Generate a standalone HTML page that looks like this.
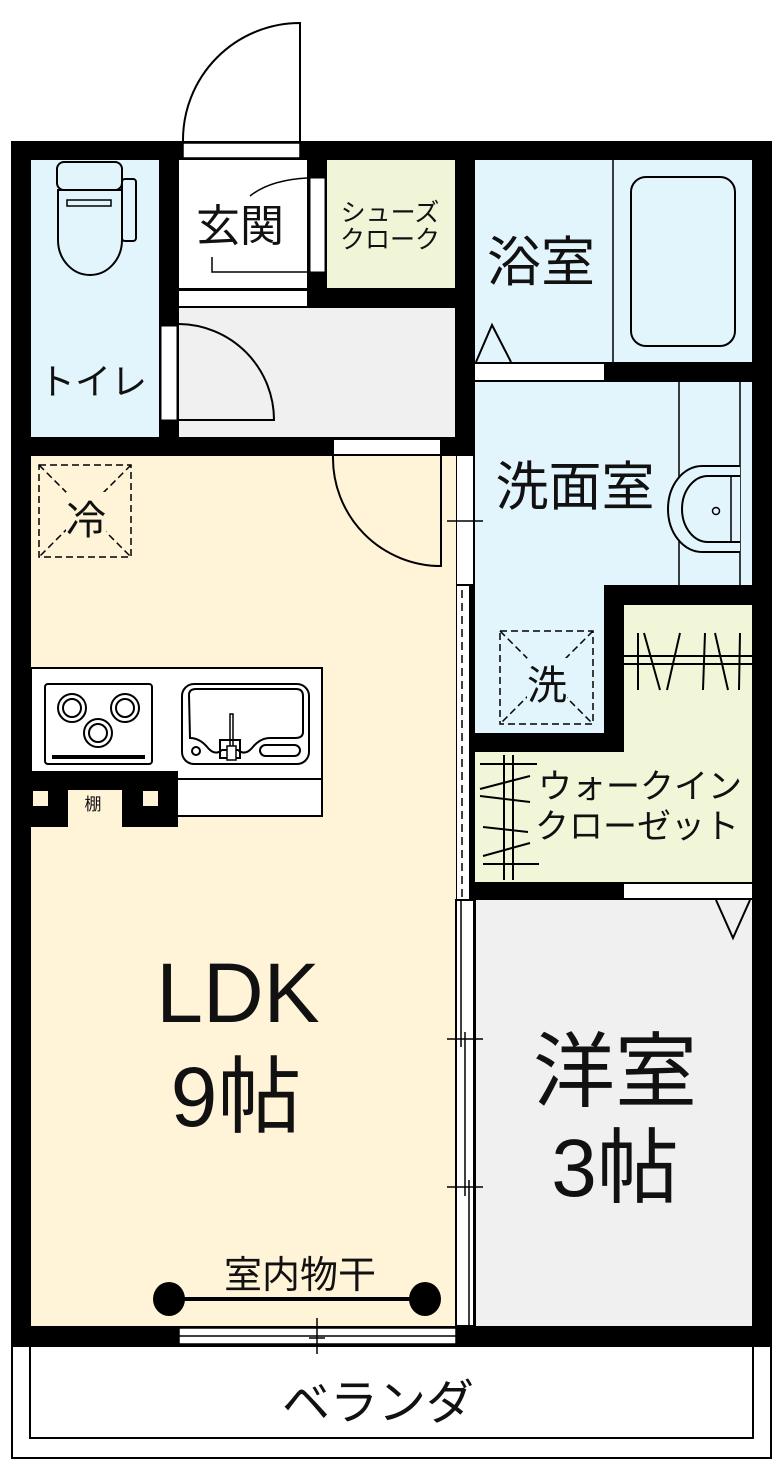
<!DOCTYPE html>
<html><head><meta charset="utf-8"><style>
html,body{margin:0;padding:0;background:#fff}
svg{display:block}
text{font-family:"Liberation Sans","Noto Sans CJK JP",sans-serif;fill:#111}
</style></head><body>
<svg width="784" height="1479" viewBox="0 0 784 1479" xmlns="http://www.w3.org/2000/svg">
<rect x="11" y="141" width="761" height="1205" fill="#000"/>
<rect x="31" y="160" width="128" height="277" fill="#e2f5fd"/>
<rect x="179" y="160" width="128" height="128" fill="#fff"/>
<rect x="179" y="291" width="128" height="15" fill="#fff"/>
<rect x="327" y="160" width="128" height="128" fill="#eff5d6"/>
<rect x="179" y="308" width="276" height="129" fill="#f0f0f0"/>
<rect x="475" y="160" width="277" height="202" fill="#e2f5fd"/>
<rect x="475" y="382" width="277" height="203" fill="#e2f5fd"/>
<rect x="475" y="585" width="129" height="148" fill="#e2f5fd"/>
<rect x="624" y="605" width="128" height="147" fill="#f1f6d9"/>
<rect x="475" y="752" width="277" height="130" fill="#f1f6d9"/>
<rect x="476" y="900" width="276" height="426" fill="#f0f0f0"/>
<rect x="31" y="456" width="425" height="870" fill="#fff3d8"/>
<rect x="183" y="143" width="117" height="15" fill="#fff" stroke="#000" stroke-width="1.5"/>
<path d="M300 141 V23 A117 117 0 0 0 183 141" fill="none" stroke="#000" stroke-width="2"/>
<rect x="310" y="178" width="15" height="94" fill="#fff" stroke="#000" stroke-width="1"/>
<path d="M307 178 Q270 180 250 196" fill="none" stroke="#000" stroke-width="1.5"/>
<path d="M212 257 V272 H307" fill="none" stroke="#000" stroke-width="1.5"/>
<line x1="179" y1="290" x2="307" y2="290" stroke="#000" stroke-width="1.5"/>
<rect x="161" y="326" width="16" height="94" fill="#fff" stroke="#000" stroke-width="1"/>
<path d="M179 324 A96 96 0 0 1 274 420 H179" fill="none" stroke="#000" stroke-width="2"/>
<rect x="334" y="440" width="106" height="14" fill="#fff"/>
<path d="M441 456 V566 A108 108 0 0 1 333 456" fill="none" stroke="#000" stroke-width="2"/>
<rect x="457" y="456" width="16" height="128" fill="#fff"/>
<rect x="457" y="586" width="12" height="314" fill="#fff"/>
<line x1="462" y1="590" x2="462" y2="898" stroke="#000" stroke-width="1.5" stroke-dasharray="8,5"/>
<line x1="447" y1="521" x2="483" y2="521" stroke="#000" stroke-width="1.5"/>
<rect x="456" y="900" width="18" height="426" fill="#fff" stroke="#000" stroke-width="2"/>
<line x1="461" y1="900" x2="461" y2="1047" stroke="#000" stroke-width="1.5"/>
<line x1="465" y1="1032" x2="465" y2="1196" stroke="#000" stroke-width="1.5"/>
<line x1="469" y1="1180" x2="469" y2="1326" stroke="#000" stroke-width="1.5"/>
<line x1="447" y1="1039" x2="483" y2="1039" stroke="#000" stroke-width="1.5"/>
<line x1="447" y1="1187" x2="483" y2="1187" stroke="#000" stroke-width="1.5"/>
<rect x="57" y="162" width="65" height="28" rx="7" fill="#e2f5fd" stroke="#000" stroke-width="2"/>
<rect x="122" y="179" width="14" height="62" rx="3" fill="#e2f5fd" stroke="#000" stroke-width="2"/>
<path d="M58 190 V240 A32 35 0 0 0 122 240 V190 Z" fill="#e2f5fd" stroke="#000" stroke-width="2"/>
<rect x="67" y="200" width="44" height="6" fill="none" stroke="#000" stroke-width="1.5"/>
<text x="93" y="394" font-size="36" text-anchor="middle">トイレ</text>
<text x="240" y="241" font-size="44" text-anchor="middle">玄関</text>
<text x="390" y="221" font-size="25" text-anchor="middle">シューズ</text>
<text x="390" y="248" font-size="25" text-anchor="middle">クローク</text>
<line x1="613" y1="160" x2="613" y2="362" stroke="#000" stroke-width="1.5"/>
<rect x="631" y="177" width="104" height="169" rx="15" fill="none" stroke="#000" stroke-width="2"/>
<path d="M476 362 L492 325 L511 362" fill="none" stroke="#000" stroke-width="2"/>
<rect x="475" y="364" width="129" height="16" fill="#fff"/>
<text x="541" y="281" font-size="54" text-anchor="middle">浴室</text>
<line x1="679" y1="382" x2="679" y2="585" stroke="#000" stroke-width="1.5"/>
<line x1="740" y1="382" x2="740" y2="585" stroke="#000" stroke-width="1.5"/>
<path d="M740 466 H702 A34 43 0 0 0 702 552 H740" fill="#e2f5fd" stroke="#000" stroke-width="2"/>
<path d="M740 476 H708 A26 33 0 0 0 708 542 H740" fill="none" stroke="#000" stroke-width="2"/>
<line x1="731" y1="476" x2="731" y2="542" stroke="#000" stroke-width="1.5"/>
<circle cx="716" cy="511" r="3.5" fill="none" stroke="#000" stroke-width="1.5"/>
<text x="575" y="505" font-size="53" text-anchor="middle">洗面室</text>
<g stroke="#000" stroke-width="1.5" stroke-dasharray="7,4" fill="none">
<rect x="500" y="631" width="93" height="93"/><line x1="500" y1="631" x2="593" y2="724"/><line x1="593" y1="631" x2="500" y2="724"/>
<rect x="39" y="465" width="92" height="92"/><line x1="39" y1="465" x2="131" y2="557"/><line x1="131" y1="465" x2="39" y2="557"/>
</g>
<rect x="527" y="658" width="40" height="42" fill="#e2f5fd"/>
<text x="547" y="699" font-size="40" text-anchor="middle">洗</text>
<rect x="66" y="492" width="40" height="42" fill="#fff3d8"/>
<text x="86" y="534" font-size="40" text-anchor="middle">冷</text>
<g stroke="#000" stroke-width="2" fill="none">
<line x1="624" y1="656" x2="752" y2="656"/><line x1="624" y1="664" x2="752" y2="664"/>
<line x1="638" y1="633" x2="638" y2="690"/><line x1="644" y1="633" x2="660" y2="690"/>
<line x1="680" y1="633" x2="667" y2="690"/><line x1="705" y1="633" x2="703" y2="690"/>
<line x1="715" y1="633" x2="728" y2="690"/><line x1="740" y1="633" x2="739" y2="690"/>
<line x1="504" y1="755" x2="504" y2="880"/><line x1="513" y1="755" x2="513" y2="880"/>
<line x1="480" y1="764" x2="537" y2="764"/><line x1="480" y1="789" x2="530" y2="776"/>
<line x1="480" y1="796" x2="530" y2="802"/><line x1="483" y1="827" x2="528" y2="832"/>
<line x1="483" y1="856" x2="530" y2="843"/><line x1="483" y1="864" x2="539" y2="864"/>
</g>
<text x="640" y="798" font-size="34" text-anchor="middle">ウォークイン</text>
<text x="637" y="838" font-size="34" text-anchor="middle">クローゼット</text>
<rect x="624" y="884" width="128" height="14" fill="#fff"/>
<path d="M716 900 L733 938 L750 900" fill="none" stroke="#000" stroke-width="2"/>
<rect x="31" y="668" width="291" height="148" fill="#fff" stroke="#000" stroke-width="2"/>
<line x1="31" y1="779" x2="322" y2="779" stroke="#000" stroke-width="2"/>
<rect x="31" y="771" width="147" height="27" fill="#000"/>
<rect x="31" y="798" width="37" height="29" fill="#000"/>
<rect x="122" y="798" width="56" height="29" fill="#000"/>
<rect x="68" y="790" width="54" height="37" fill="#fff3d8"/>
<rect x="33" y="791" width="15" height="15" fill="#fff3d8"/>
<rect x="143" y="791" width="15" height="15" fill="#fff3d8"/>
<text x="93" y="810" font-size="17" text-anchor="middle">棚</text>
<rect x="45" y="684" width="107" height="80" rx="3" fill="none" stroke="#000" stroke-width="2"/>
<g fill="none" stroke="#000" stroke-width="2">
<circle cx="72" cy="708" r="14"/><circle cx="72" cy="708" r="9"/>
<circle cx="125" cy="708" r="14"/><circle cx="125" cy="708" r="9"/>
<circle cx="98" cy="733" r="14"/><circle cx="98" cy="733" r="9"/>
<rect x="182" y="684" width="127" height="80" rx="12"/>
<path d="M189 695 Q189 689 196 689 H296 Q303 689 303 696 V732 Q303 738 295 738 H270 Q260 738 252 748 Q245 756 238 750 H222 Q215 756 208 748 Q200 738 190 738 Z"/>
<circle cx="196" cy="751" r="4"/><rect x="260" y="745" width="40" height="11" rx="5.5"/>
</g>
<rect x="220" y="740" width="20" height="18" fill="none" stroke="#000" stroke-width="2"/>
<rect x="230" y="714" width="3" height="34" fill="none" stroke="#000" stroke-width="1.5"/>
<rect x="227" y="746" width="9" height="14" fill="#fff" stroke="#000" stroke-width="1.5"/>
<rect x="52" y="755" width="93" height="4" fill="#000"/>
<text x="238" y="1022" font-size="84" text-anchor="middle">LDK</text>
<text x="236" y="1126" font-size="84" text-anchor="middle">9帖</text>
<text x="615" y="1100" font-size="82" text-anchor="middle">洋室</text>
<text x="615" y="1196" font-size="82" text-anchor="middle">3帖</text>
<text x="300" y="1288" font-size="38" text-anchor="middle">室内物干</text>
<line x1="169" y1="1299" x2="425" y2="1299" stroke="#000" stroke-width="4"/>
<ellipse cx="169" cy="1299" rx="16" ry="17" fill="#000"/>
<ellipse cx="425" cy="1299" rx="16" ry="17" fill="#000"/>
<rect x="179" y="1328" width="277" height="16" fill="#fff" stroke="#000" stroke-width="1.5"/>
<line x1="179" y1="1336" x2="456" y2="1336" stroke="#000" stroke-width="1.5"/>
<line x1="317" y1="1318" x2="317" y2="1354" stroke="#000" stroke-width="1.5"/>
<line x1="309" y1="1338" x2="325" y2="1338" stroke="#000" stroke-width="1.5"/>
<rect x="12" y="1346" width="759" height="112" fill="none" stroke="#000" stroke-width="2"/>
<rect x="30" y="1346" width="723" height="92" fill="none" stroke="#000" stroke-width="2"/>
<text x="378" y="1419" font-size="48" text-anchor="middle">ベランダ</text>
</svg>
</body></html>
